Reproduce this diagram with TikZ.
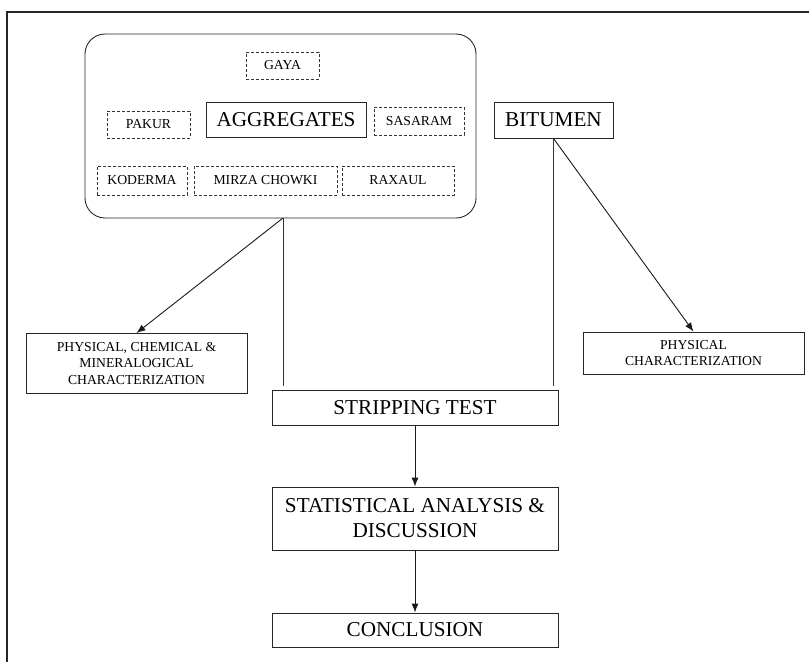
\documentclass[tikz,border=0pt]{standalone}
\usepackage{fontspec}
\setmainfont{Liberation Serif}
\usepackage{tikz}
\usetikzlibrary{arrows.meta, positioning, calc}

\newcommand{\smalltxt}{\fontsize{13.7}{16.5}\selectfont}
\newcommand{\bigtxt}{\fontsize{21.2}{25}\selectfont}

\tikzset{
    sitebox/.style={draw=black!80, line width=0.9pt, dash pattern=on 3pt off 2pt,
                    inner sep=0pt, align=center, font=\smalltxt},
    stagebox/.style={draw=black!85, line width=0.9pt, inner sep=0pt, align=center, font=\bigtxt},
    notebox/.style={draw=black!85, line width=0.9pt, inner sep=0pt, align=center, font=\smalltxt},
    flow/.style={draw=black!90, line width=0.9pt, -{Latex[length=9pt,width=7pt]}},
    link/.style={draw=black!80, line width=0.9pt}
}

\begin{document}
\begin{tikzpicture}[x=1pt, y=-1pt]
    \useasboundingbox (0,0) rectangle (809,662);
    % outer frame
    \draw[line width=1.4pt, black!85] (809,12) -- (7,12) -- (7,662);

    % aggregate group
    \node[draw=black!85, line width=0.9pt, rounded corners=20pt,
          minimum width=391pt, minimum height=184pt] (aggroup) at (280.5,126) {};
    \node[stagebox, minimum width=160pt, minimum height=35pt] (aggregates) at (286,119.5) {AGGREGATES};
    \node[sitebox, minimum width=73pt, minimum height=27pt] (gaya) at (282.5,65.5) {GAYA};
    \node[sitebox, minimum width=83pt, minimum height=27pt] (pakur) at (148.5,124.5) {PAKUR};
    \node[sitebox, minimum width=90pt, minimum height=28pt] (sasaram) at (419,121) {SASARAM};
    \node[sitebox, minimum width=90pt, minimum height=29pt] (koderma) at (142,180.5) {KODERMA};
    \node[sitebox, minimum width=143pt, minimum height=29pt] (mirza) at (265.5,180.5) {MIRZA CHOWKI};
    \node[sitebox, minimum width=112pt, minimum height=29pt] (raxaul) at (398,180.5) {RAXAUL};

    \node[stagebox, minimum width=119pt, minimum height=36pt] (bitumen) at (553.5,120) {BITUMEN};

    % characterization
    \node[notebox, minimum width=221pt, minimum height=60pt] (aggchar) at (136.5,363.5)
        {PHYSICAL, CHEMICAL \&\\MINERALOGICAL\\CHARACTERIZATION};
    \node[notebox, minimum width=221pt, minimum height=42pt] (bitchar) at (693.5,353)
        {PHYSICAL\\CHARACTERIZATION};

    % main flow
    \node[stagebox, minimum width=286pt, minimum height=35pt] (strip) at (415,407.5) {STRIPPING TEST};
    \node[stagebox, minimum width=286pt, minimum height=63pt] (stats) at (415,518.5)
        {STATISTICAL ANALYSIS \&\\DISCUSSION};
    \node[stagebox, minimum width=286pt, minimum height=34pt] (concl) at (415,630) {CONCLUSION};

    \coordinate (aggfoot) at (283,218);
    \coordinate (aggdrop) at (283,386);
    \coordinate (bitdrop) at (553.5,386);

    \draw[flow] (aggfoot) -- (aggchar.north);
    \draw[link] (aggfoot) -- (aggdrop);
    \draw[flow] (bitumen.south) -- (bitchar.north);
    \draw[link] (bitumen.south) -- (bitdrop);
    \draw[flow] (strip) -- (stats);
    \draw[flow] (stats) -- (concl);
\end{tikzpicture}
\end{document}
